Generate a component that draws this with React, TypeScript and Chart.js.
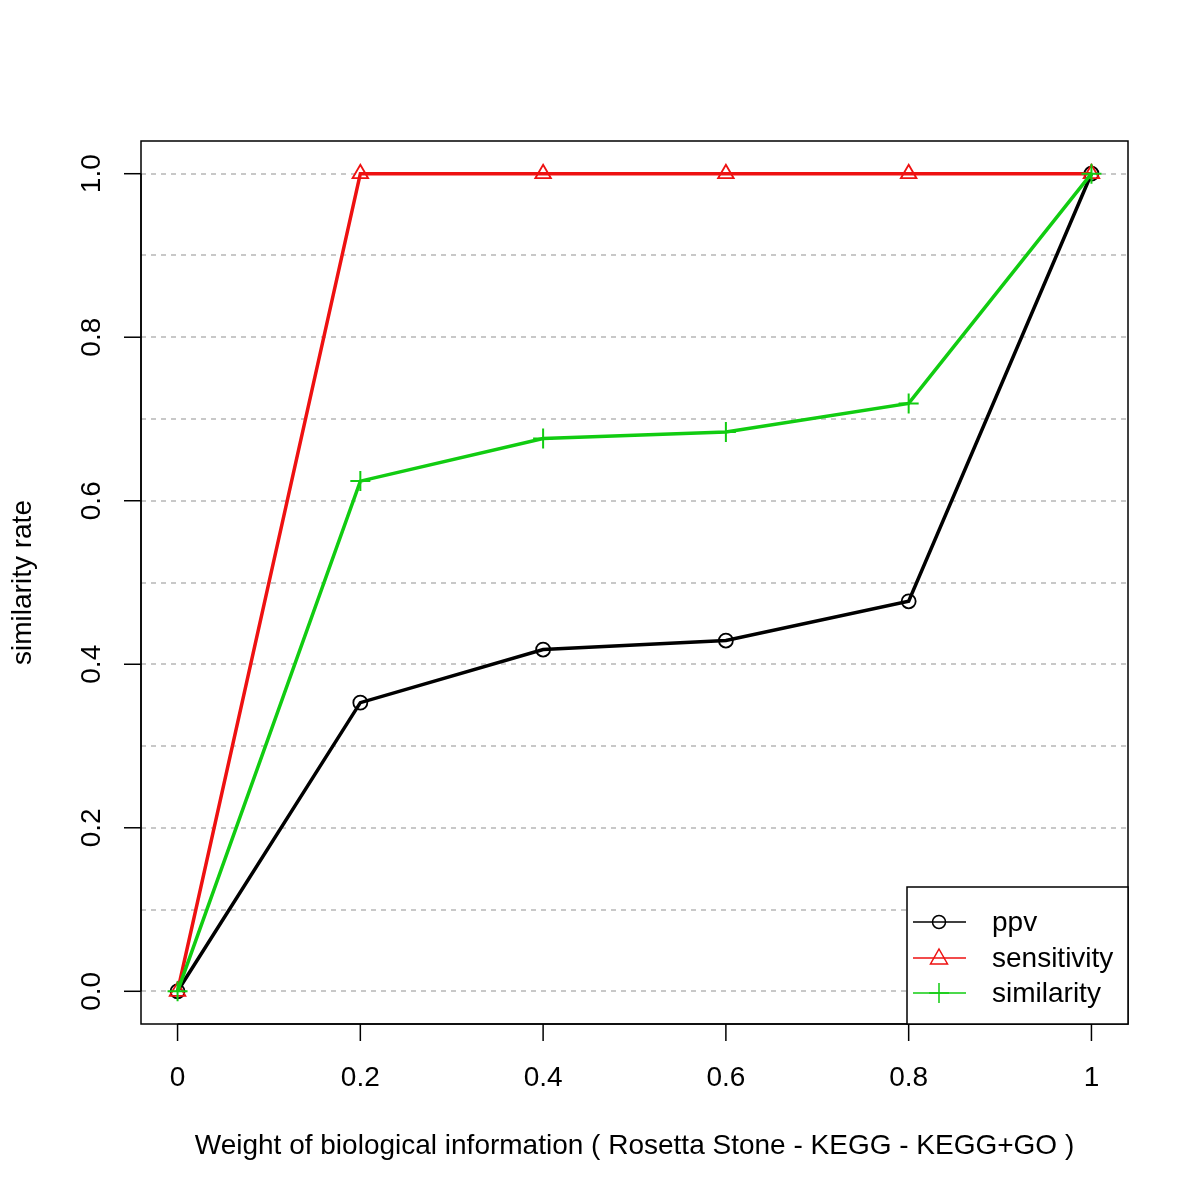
import React, { useEffect, useRef } from "react";
import { Chart, registerables } from "chart.js";

Chart.register(...registerables);

const weights = [0, 0.2, 0.4, 0.6, 0.8, 1];
const ppv = [0, 0.353, 0.418, 0.429, 0.477, 1.0];
const sensitivity = [0, 1, 1, 1, 1, 1];
const similarity = [0, 0.624, 0.676, 0.684, 0.719, 1.0];

const xTickValues = [0, 0.2, 0.4, 0.6, 0.8, 1];
const xTickLabels = ["0", "0.2", "0.4", "0.6", "0.8", "1"];
const yTickValues = [0, 0.2, 0.4, 0.6, 0.8, 1.0];
const yTickLabels = ["0.0", "0.2", "0.4", "0.6", "0.8", "1.0"];
const yGridValues = [0, 0.1, 0.2, 0.3, 0.4, 0.5, 0.6, 0.7, 0.8, 0.9, 1.0];

const seriesNames = ["ppv", "sensitivity", "similarity"];
const seriesColors = ["#000000", "#ee1111", "#11cc11"];
const seriesPoints = ["circle", "triangle", "cross"];

const xTitle = "Weight of biological information ( Rosetta Stone - KEGG - KEGG+GO )";
const yTitle = "similarity rate";

const FONT = "'Liberation Sans', Arial, Helvetica, sans-serif";

export default function App() {
  const ref = useRef<HTMLCanvasElement | null>(null);

  useEffect(() => {
    document.body.style.margin = "0";
    const canvas = ref.current;
    if (!canvas) return;

    const rPlot = {
      id: "rPlot",
      afterDraw(chart: any) {
        const ctx = chart.ctx;
        const ca = chart.chartArea;
        const xs = chart.scales.x;
        const ys = chart.scales.y;
        ctx.save();
        ctx.strokeStyle = "#000";
        ctx.lineWidth = 1.5;
        ctx.strokeRect(ca.left, ca.top, ca.right - ca.left, ca.bottom - ca.top);

        // x axis
        ctx.font = `28px ${FONT}`;
        ctx.fillStyle = "#000";
        ctx.textAlign = "center";
        ctx.textBaseline = "middle";
        const x0 = xs.getPixelForValue(xTickValues[0]);
        const x1 = xs.getPixelForValue(xTickValues[xTickValues.length - 1]);
        ctx.beginPath();
        ctx.moveTo(x0, ca.bottom);
        ctx.lineTo(x1, ca.bottom);
        ctx.stroke();
        xTickValues.forEach((v, i) => {
          const px = xs.getPixelForValue(v);
          ctx.beginPath();
          ctx.moveTo(px, ca.bottom);
          ctx.lineTo(px, ca.bottom + 17);
          ctx.stroke();
          ctx.fillText(xTickLabels[i], px, 1078);
        });

        // y axis
        const y0 = ys.getPixelForValue(yTickValues[0]);
        const y1 = ys.getPixelForValue(yTickValues[yTickValues.length - 1]);
        ctx.beginPath();
        ctx.moveTo(ca.left, y0);
        ctx.lineTo(ca.left, y1);
        ctx.stroke();
        yTickValues.forEach((v, i) => {
          const py = ys.getPixelForValue(v);
          ctx.beginPath();
          ctx.moveTo(ca.left, py);
          ctx.lineTo(ca.left - 17, py);
          ctx.stroke();
          ctx.save();
          ctx.translate(92, py);
          ctx.rotate(-Math.PI / 2);
          ctx.fillText(yTickLabels[i], 0, 0);
          ctx.restore();
        });

        // titles
        ctx.fillText(xTitle, (ca.left + ca.right) / 2, 1146);
        ctx.save();
        ctx.translate(23, (ca.top + ca.bottom) / 2);
        ctx.rotate(-Math.PI / 2);
        ctx.fillText(yTitle, 0, 0);
        ctx.restore();

        // legend
        const lx = 907, ly = 887, lw = ca.right - 907, lh = ca.bottom - 887;
        ctx.fillStyle = "#fff";
        ctx.fillRect(lx, ly, lw, lh);
        ctx.strokeStyle = "#000";
        ctx.lineWidth = 1.5;
        ctx.strokeRect(lx, ly, lw, lh);
        const rows = [922, 958, 993];
        seriesNames.forEach((name, i) => {
          const ry = rows[i];
          const c = seriesColors[i];
          ctx.strokeStyle = c;
          ctx.lineWidth = 1.5;
          ctx.beginPath();
          ctx.moveTo(913, ry);
          ctx.lineTo(966, ry);
          ctx.stroke();
          const cx = 939;
          ctx.beginPath();
          if (seriesPoints[i] === "circle") {
            ctx.arc(cx, ry, 6.5, 0, Math.PI * 2);
          } else if (seriesPoints[i] === "triangle") {
            ctx.moveTo(cx, ry - 9);
            ctx.lineTo(cx + 8.5, ry + 6);
            ctx.lineTo(cx - 8.5, ry + 6);
            ctx.closePath();
          } else {
            ctx.moveTo(cx - 10, ry);
            ctx.lineTo(cx + 10, ry);
            ctx.moveTo(cx, ry - 10);
            ctx.lineTo(cx, ry + 10);
          }
          ctx.stroke();
          ctx.fillStyle = "#000";
          ctx.textAlign = "left";
          ctx.fillText(name, 992, ry + 1);
        });
        ctx.restore();
      },
    };

    const data = [ppv, sensitivity, similarity];
    const chart = new Chart(canvas, {
      type: "line",
      data: {
        datasets: seriesNames.map((name, i) => ({
          label: name,
          data: weights.map((w, j) => ({ x: w, y: data[i][j] })),
          borderColor: seriesColors[i],
          backgroundColor: "transparent",
          borderWidth: 3.5,
          pointStyle: seriesPoints[i] as any,
          pointRadius: seriesPoints[i] === "cross" ? 10 : seriesPoints[i] === "triangle" ? 9 : 7,
          pointBorderWidth: seriesPoints[i] === "cross" ? 2 : 1.8,
          pointBorderColor: seriesColors[i],
          pointBackgroundColor: "transparent",
          tension: 0,
          fill: false,
          order: 3 - i,
        })),
      },
      options: {
        responsive: false,
        animation: false,
        layout: { padding: { left: 141, top: 141, right: 72, bottom: 176 } },
        plugins: { legend: { display: false }, tooltip: { enabled: false } },
        scales: {
          x: {
            type: "linear",
            min: -0.04,
            max: 1.04,
            ticks: { display: false },
            grid: { display: false, drawTicks: false, tickLength: 0 },
            border: { display: false },
          },
          y: {
            type: "linear",
            min: -0.04,
            max: 1.04,
            afterBuildTicks: (axis: any) => {
              axis.ticks = yGridValues.map((v) => ({ value: v }));
            },
            ticks: { display: false },
            grid: {
              color: "#c8c8c8",
              lineWidth: 2,
              drawTicks: false,
              tickLength: 0,
            },
            border: { display: false, dash: [5, 5] },
          },
        },
      },
      plugins: [rPlot],
    });

    return () => chart.destroy();
  }, []);

  return (
    <div style={{ width: 1200, height: 1200, background: "#fff" }}>
      <canvas ref={ref} width={1200} height={1200} style={{ display: "block" }} />
    </div>
  );
}
